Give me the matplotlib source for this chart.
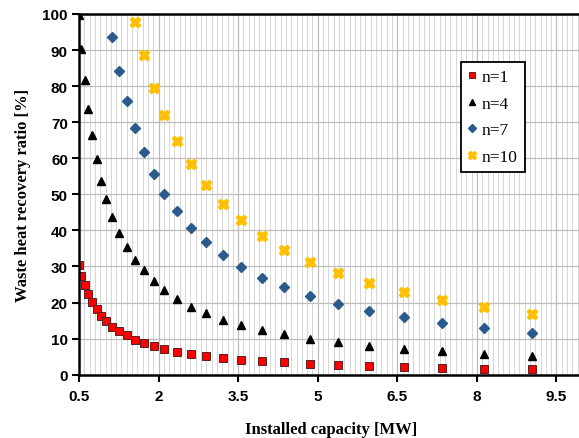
import matplotlib
matplotlib.use("Agg")
import matplotlib.pyplot as plt
from matplotlib.ticker import MultipleLocator

# Installed capacity [MW] values
cap = [0.50, 0.54, 0.61, 0.67, 0.75, 0.83, 0.92, 1.01, 1.13, 1.26, 1.40, 1.56,
       1.72, 1.92, 2.11, 2.35, 2.61, 2.89, 3.21, 3.56, 3.94, 4.37, 4.85, 5.38,
       5.97, 6.62, 7.34, 8.13, 9.03]

ratio_n1 = [30.5, 27.5, 24.8, 22.4, 20.1, 18.3, 16.3, 14.8, 13.3, 12.1, 10.9, 9.7,
            8.9, 7.9, 7.1, 6.3, 5.7, 5.2, 4.6, 4.1, 3.8, 3.4, 3.05, 2.8,
            2.4, 2.2, 1.95, 1.7, 1.5]
ratio_n4 = [99.7, 90.2, 81.6, 73.6, 66.4, 59.7, 53.7, 48.6, 43.6, 39.4, 35.4, 31.9,
            28.9, 25.9, 23.4, 21.1, 18.9, 17.0, 15.2, 13.7, 12.3, 11.2, 9.9, 9.0,
            8.0, 7.1, 6.5, 5.7, 5.3]
ratio_n7 = [93.5, 84.3, 76.0, 68.5, 61.8, 55.7, 50.1, 45.3, 40.6, 36.8, 33.2,
            29.8, 26.8, 24.3, 21.9, 19.6, 17.6, 16.1, 14.3, 12.9, 11.6]
ratio_n10 = [97.9, 88.5, 79.5, 71.9, 64.7, 58.4, 52.5, 47.4, 42.8, 38.5, 34.7,
             31.3, 28.3, 25.5, 22.9, 20.7, 18.7, 16.7]

labels = ["n=1", "n=4", "n=7", "n=10"]
xticks = [0.5, 2, 3.5, 5, 6.5, 8, 9.5]
yticks = list(range(0, 101, 10))

fig = plt.figure(figsize=(5.79, 4.39), dpi=100)
ax = fig.add_axes([79/579, (439-375.7)/439, 504/579, 360.7/439])

ax.plot(cap, ratio_n1, linestyle="none", marker="s", ms=5.2, mfc="#FF0000",
        mec="#5a2020", mew=0.7, label=labels[0], zorder=2)
ax.plot(cap[-len(ratio_n4):], ratio_n4, linestyle="none", marker="^", ms=5.5,
        color="black", label=labels[1], zorder=2)
ax.plot(cap[-len(ratio_n7):], ratio_n7, linestyle="none", marker="D", ms=5,
        color="#2A5B8C", label=labels[2], zorder=2)
ax.plot(cap[-len(ratio_n10):], ratio_n10, linestyle="none", marker="X", ms=7.5,
        color="#FFC000", mec="#FFC000", label=labels[3], zorder=2)

ax.set_xlim(0.5, 10)
ax.set_ylim(0, 100)
ax.set_xticks(xticks)
ax.set_xticklabels([("%g" % t) for t in xticks])
ax.set_yticks(yticks)
ax.xaxis.set_minor_locator(MultipleLocator(0.1))

ax.grid(which="major", axis="both", color="#BDBDBD", lw=0.9, zorder=0)
ax.grid(which="minor", axis="x", color="#D6D6D6", lw=0.7, zorder=0)
ax.set_axisbelow(True)

for s in ["left", "bottom", "top"]:
    ax.spines[s].set_linewidth(1.8)
    ax.spines[s].set_color("black")
    ax.spines[s].set_zorder(3)
ax.spines["right"].set_visible(False)

ax.tick_params(axis="both", which="major", direction="out", length=5, width=1.5,
               labelsize=11, pad=3)
ax.tick_params(axis="x", which="minor", length=0)
ax.tick_params(axis="x", pad=5)
for lab in ax.get_xticklabels() + ax.get_yticklabels():
    lab.set_fontfamily("Liberation Sans")
    lab.set_fontweight("bold")

ax.set_xlabel("Installed capacity [MW]", fontfamily="Liberation Serif",
              fontweight="bold", fontsize=12, labelpad=13)
ax.set_ylabel("Waste heat recovery ratio [%]", fontfamily="Liberation Serif",
              fontweight="bold", fontsize=12, labelpad=8)

leg = ax.legend(loc="upper left", bbox_to_anchor=(0.758, 0.867), frameon=True,
                fancybox=False, edgecolor="black", framealpha=1,
                prop={"family": "Liberation Serif", "size": 12.5},
                markerscale=0.75, handlelength=0.5, handletextpad=0.3,
                labelspacing=0.6, borderpad=0.4, borderaxespad=0)
leg.get_frame().set_linewidth(1.3)

fig.savefig("out.png", dpi=100)
